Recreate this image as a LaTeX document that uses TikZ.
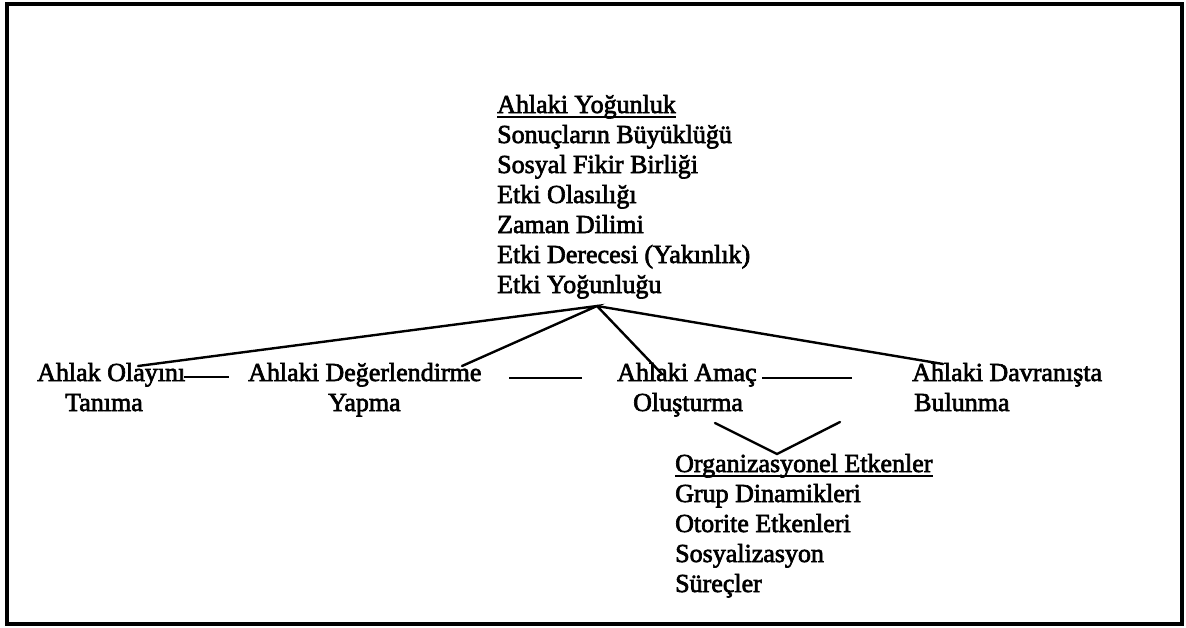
\documentclass[tikz,border=0pt]{standalone}
\usepackage{fontspec}
\newfontfamily\tf{Liberation Serif}[FakeBold=2.5]
\begin{document}
\begin{tikzpicture}[x=1pt,y=-1pt,
  lbl/.style={inner sep=0pt, anchor=base west, font=\tf\fontsize{26}{30}\selectfont},
  conn/.style={line width=2.4pt, line cap=round},
  dashln/.style={line width=2pt},
  uline/.style={line width=1.4pt}]
\useasboundingbox (0,0) rectangle (1186,627);
\draw[line width=3.6pt] (7,4) rectangle (1182,624);
% top block
\foreach [count=\i] \t in {{Ahlaki Yoğunluk},{Sonuçların Büyüklüğü},{Sosyal Fikir Birliği},{Etki Olasılığı},{Zaman Dilimi},{Etki Derecesi (Yakınlık)},{Etki Yoğunluğu}}
  \node[lbl] (m\i) at (497,{113+30*(\i-1)}) {\t};
\draw[uline] ([yshift=-4pt]m1.base west) -- ([yshift=-4pt]m1.base east);
% middle row
\node[lbl] (a1) at (37,381) {Ahlak Olayını};
\node[lbl] (a2) at (65,411) {Tanıma};
\node[lbl] (b1) at (248,381) {Ahlaki Değerlendirme};
\node[lbl] (b2) at (328,411) {Yapma};
\node[lbl] (c1) at (617,381) {Ahlaki Amaç};
\node[lbl] (c2) at (633,411) {Oluşturma};
\node[lbl] (d1) at (912,381) {Ahlaki Davranışta};
\node[lbl] (d2) at (914,411) {Bulunma};
% bottom block
\foreach [count=\i] \t in {{Organizasyonel Etkenler},{Grup Dinamikleri},{Otorite Etkenleri},{Sosyalizasyon},{Süreçler}}
  \node[lbl] (o\i) at (675,{472+30*(\i-1)}) {\t};
\draw[uline] ([yshift=-4pt]o1.base west) -- ([yshift=-4pt]o1.base east);
% connectors
\coordinate (apex) at (597,306);
\coordinate (ea) at (138,366);
\coordinate (eb) at (462,366);
\coordinate (ec) at (662,374);
\coordinate (ed) at (943,364);
\draw[conn] (ea) -- (apex) -- (eb);
\draw[conn] (apex) -- (ec);
\draw[conn] (apex) -- (ed);
\coordinate (vl) at (715,423);
\coordinate (vb) at (777,454);
\coordinate (vr) at (840,422);
\draw[conn] (vl) -- (vb) -- (vr);
% dashes
\coordinate (da1) at (184,377);
\coordinate (da2) at (229,377);
\coordinate (db1) at (509,378);
\coordinate (db2) at (582,378);
\coordinate (dc1) at (762,378);
\coordinate (dc2) at (852,378);
\draw[dashln, line width=1.5pt] (da1) -- (da2);
\draw[dashln] (db1) -- (db2);
\draw[dashln] (dc1) -- (dc2);
\end{tikzpicture}
\end{document}
